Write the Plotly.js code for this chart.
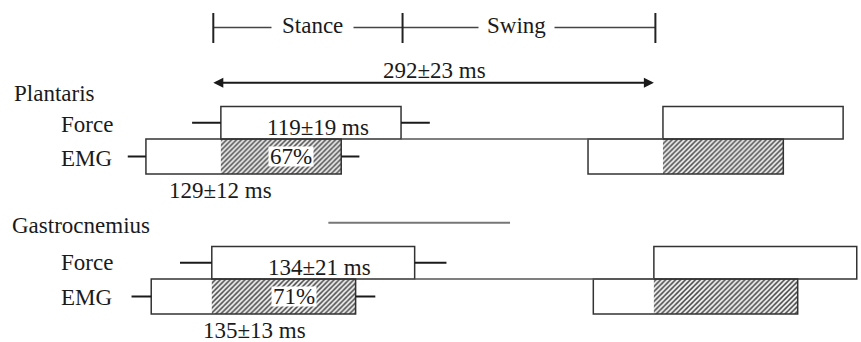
<!DOCTYPE html>
<html><head><meta charset="utf-8">
<script src="https://cdn.plot.ly/plotly-3.0.1.min.js"></script>
<style>html,body{margin:0;padding:0;background:#fff}</style>
</head><body><div id="chart" style="width:861px;height:342px"></div>
<script>
// ---- Data (ms) ----
const rows = ["Plantaris Force", "Plantaris EMG", "Gastrocnemius Force", "Gastrocnemius EMG"];
const onsets = [5, -44.5, -1, -41];          // onset relative to stance start
const durations = [119, 129, 134, 135];      // burst durations
const sds = [19, 12, 21, 13];                // whisker SDs
const durationLabels = ["119±19 ms", "129±12 ms", "134±21 ms", "135±13 ms"];
const overlapPct = ["67%", "71%"];
const muscles = ["Plantaris", "Gastrocnemius"];
const strideMs = 292;
const strideLabel = "292±23 ms";
const phaseBounds = [0, 125, 292];
const phaseNames = ["Stance", "Swing"];
const separatorMs = [76, 196];

// ---- Layout helpers (pixel-unit vertical axis) ----
const rowTop = [106.5, 139, 246.5, 279];
const rowH = [32.5, 35, 32.5, 35];
const rowC = rowTop.map((t, i) => t + rowH[i] / 2);
const muscleY = [93.5, 225];
const subLabelY = [[124, 158], [262, 297]];
const durLabelPos = [[69, 127], [4.5, 190], [70, 267], [27, 330]];
const pctLabelPos = [[51, 156], [53.5, 296.5]];
const pxPerMs = 1.514, originPx = 213.3, W = 861, H = 342;
const x0 = -originPx / pxPerMs, x1 = x0 + W / pxPerMs;
const pxToMs = p => (p - originPx) / pxPerMs;

const serif = "'Liberation Serif', 'Times New Roman', serif";
const ink = "#1a1a1a";
const strides = [0, strideMs];

// boxes
const boxX = [], boxBase = [], boxY = [], boxW = [];
strides.forEach(s => rows.forEach((r, i) => {
  boxBase.push(onsets[i] + s); boxX.push(durations[i]); boxY.push(rowC[i]); boxW.push(rowH[i]);
}));
// hatched overlap (force onset -> EMG offset)
const hX = [], hBase = [], hY = [], hW = [];
strides.forEach(s => [0, 1].forEach(m => {
  const f = 2 * m, e = 2 * m + 1;
  const st = onsets[f] + s, en = onsets[e] + durations[e] + s;
  hBase.push(st); hX.push(en - st); hY.push(rowC[e]); hW.push(rowH[e]);
}));
// whiskers (first stride only)
const wx = [], wy = [];
rows.forEach((r, i) => {
  const a = onsets[i], b = onsets[i] + durations[i];
  wx.push(a - sds[i], a, null, b, b + sds[i], null);
  wy.push(rowC[i], rowC[i], null, rowC[i], rowC[i], null);
});
// force baselines: force offset -> next force onset
const bx = [], by = [];
[0, 2].forEach(f => {
  bx.push(onsets[f] + durations[f], onsets[f] + strideMs, null);
  by.push(rowTop[f] + rowH[f], rowTop[f] + rowH[f], null);
});
// phase bracket
const px = [phaseBounds[0], phaseBounds[2], null], py = [27.5, 27.5, null];
const tx = [], ty = [];
phaseBounds.forEach(b => { tx.push(b, b, null); ty.push(13, 43, null); });

const traces = [
  {type: "bar", orientation: "h", x: hX, base: hBase, y: hY, width: hW,
   marker: {color: "white", line: {width: 0},
     pattern: {shape: "/", fgcolor: "#4a4a4a", bgcolor: "#f2f2f2", size: 3.5, solidity: 0.45}},
   hoverinfo: "skip", showlegend: false},
  {type: "bar", orientation: "h", x: boxX, base: boxBase, y: boxY, width: boxW,
   marker: {color: "rgba(0,0,0,0)", line: {width: 1.5, color: "#333"}},
   hoverinfo: "skip", showlegend: false},
  {type: "scatter", mode: "lines", x: bx, y: by, line: {color: "#555", width: 1.5},
   hoverinfo: "skip", showlegend: false},
  {type: "scatter", mode: "lines", x: wx, y: wy, line: {color: ink, width: 2},
   hoverinfo: "skip", showlegend: false},
  {type: "scatter", mode: "lines", x: px, y: py, line: {color: "#444", width: 1.3},
   hoverinfo: "skip", showlegend: false},
  {type: "scatter", mode: "lines", x: tx, y: ty, line: {color: "#222", width: 2},
   hoverinfo: "skip", showlegend: false},
  {type: "scatter", mode: "lines", x: separatorMs, y: [222.7, 222.7], line: {color: "#777", width: 2},
   hoverinfo: "skip", showlegend: false}
];

const f23 = {family: serif, size: 23, color: ink};
const ann = [];
const txt = (text, x, y, xanchor, extra) => ann.push(Object.assign(
  {text, x, y, xref: "x", yref: "y", xanchor: xanchor || "center", yanchor: "middle",
   showarrow: false, font: f23}, extra || {}));

// phases
txt(phaseNames[0], 65.5, 25.5, "center", {bgcolor: "white", borderpad: 10});
txt(phaseNames[1], 200, 25.5, "center", {bgcolor: "white", borderpad: 8});
// stride arrow
ann.push({x: phaseBounds[2] - 1, y: 82.7, ax: phaseBounds[0] - 1, ay: 82.7, axref: "x", ayref: "y",
  xref: "x", yref: "y", text: "", showarrow: true, arrowside: "end+start",
  arrowhead: 2, startarrowhead: 2, arrowsize: 1, startarrowsize: 1, arrowwidth: 2, arrowcolor: ink,
  standoff: 0, startstandoff: 0});
txt(strideLabel, strideMs / 2, 70.5);
// muscle and row labels
muscles.forEach((m, k) => {
  txt(m, pxToMs(k === 0 ? 12 : 10), muscleY[k], "left");
  txt("Force", pxToMs(59), subLabelY[k][0], "left");
  txt("EMG", pxToMs(59), subLabelY[k][1], "left");
});
durationLabels.forEach((l, i) => txt(l, durLabelPos[i][0], durLabelPos[i][1]));
overlapPct.forEach((l, k) => txt(l, pctLabelPos[k][0], pctLabelPos[k][1], "center",
  {bgcolor: "white", borderpad: 0, width: 44, height: 19}));

Plotly.newPlot("chart", traces, {
  width: W, height: H, margin: {l: 0, r: 0, t: 0, b: 0},
  paper_bgcolor: "white", plot_bgcolor: "white", barmode: "overlay", showlegend: false,
  xaxis: {range: [x0, x1], visible: false, fixedrange: true},
  yaxis: {range: [H, 0], visible: false, fixedrange: true},
  annotations: ann
}, {staticPlot: true, displayModeBar: false});
</script></body></html>
